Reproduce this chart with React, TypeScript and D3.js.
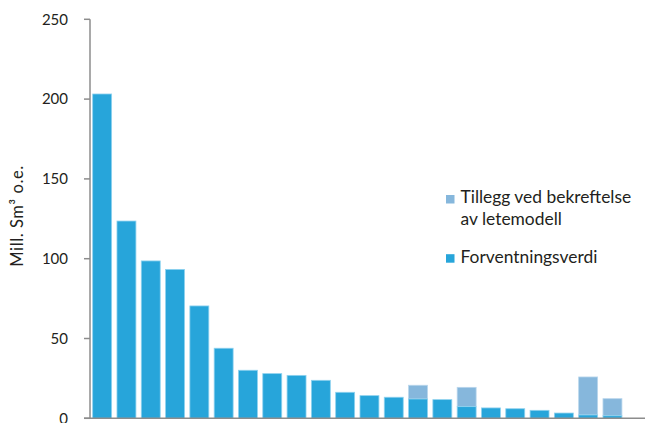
import React from "react";
import * as d3 from "d3";

// Estimated resources per prospect, sorted by expected value
const categories = d3.range(1, 23).map((i) => `P${i}`);
const expected = [203.2, 123.6, 98.6, 93.3, 70.4, 43.9, 30.1, 28, 26.9, 23.8, 16.3, 14.2, 13.2, 12.1, 11.7, 7.3, 6.5, 6.0, 5.0, 3.3, 2.1, 1.6];
const addition = [0, 0, 0, 0, 0, 0, 0, 0, 0, 0, 0, 0, 0, 8.6, 0, 12.1, 0, 0, 0, 0, 23.8, 10.7];
const yTicks = [0, 50, 100, 150, 200, 250];

const W = 645;
const H = 423;
const FONT = "Lato, 'Open Sans', sans-serif";
const DARK = "#27A5DA";
const LIGHT = "#86B7DC";
const TEXT = "#231F20";

export default function App() {
  const x = d3.scaleBand<string>().domain(categories).range([90, 624.6]).paddingInner(0.22).paddingOuter(0.11);
  const y = d3.scaleLinear().domain([0, 250]).range([418.3, 19.3]);
  const bw = x.bandwidth();

  return (
    <svg width={W} height={H} style={{ position: "absolute", left: 0, top: 0, background: "#fff" }}>
      {categories.map((c, i) => {
        const x0 = x(c)!;
        const e = expected[i];
        const a = addition[i];
        return (
          <g key={c}>
            {a > 0 && (
              <rect x={x0} y={y(e + a)} width={bw} height={y(e) - y(e + a)} fill={LIGHT} stroke="#b9d6ec" strokeWidth={0.8} />
            )}
            <rect x={x0} y={y(e)} width={bw} height={y(0) - y(e)} fill={DARK} stroke="#8fd2ef" strokeWidth={0.8} />
          </g>
        );
      })}

      {/* axes */}
      <line x1={90} x2={90} y1={y(250)} y2={y(0)} stroke="#8c8c8c" strokeWidth={1.5} />
      <line x1={84} x2={W} y1={y(0)} y2={y(0)} stroke="#8c8c8c" strokeWidth={1.5} />
      {yTicks.map((t) => (
        <g key={t}>
          <line x1={84} x2={90} y1={y(t)} y2={y(t)} stroke="#8c8c8c" strokeWidth={1.5} />
          <text x={68} y={y(t)} dy="0.35em" textAnchor="end" fontFamily={FONT} fontSize={15} fill={TEXT}>
            {t}
          </text>
        </g>
      ))}
      <text
        transform={`translate(23,${216}) rotate(-90)`}
        textAnchor="middle"
        fontFamily={FONT}
        fontSize={16.5}
        letterSpacing={0.6}
        fill={TEXT}
      >
        Mill. Sm³ o.e.
      </text>

      {/* legend */}
      <rect x={446} y={195} width={8.5} height={8.5} fill={LIGHT} />
      <text x={460.5} y={203.3} fontFamily={FONT} fontSize={17.4} fill={TEXT}>Tillegg ved bekreftelse</text>
      <text x={460.5} y={224.5} fontFamily={FONT} fontSize={17.4} fill={TEXT}>av letemodell</text>
      <rect x={446} y={254.2} width={8.5} height={8.5} fill={DARK} />
      <text x={460.5} y={262.7} fontFamily={FONT} fontSize={17.4} fill={TEXT}>Forventningsverdi</text>
    </svg>
  );
}
